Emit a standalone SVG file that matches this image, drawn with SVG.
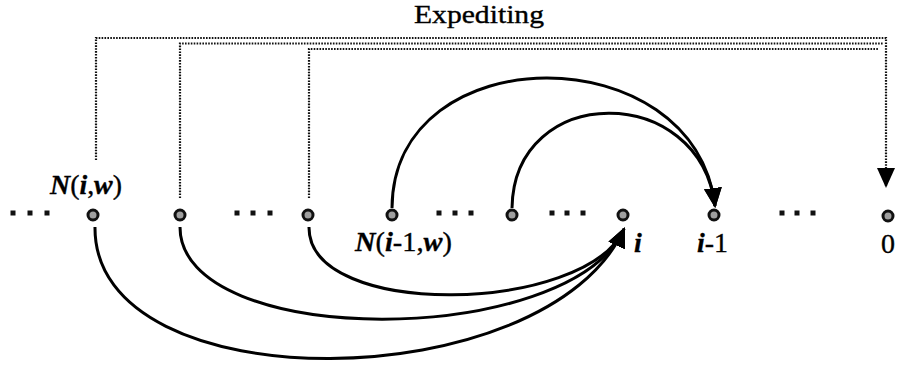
<svg xmlns="http://www.w3.org/2000/svg" width="897" height="365" viewBox="0 0 897 365">
<style>
.node{fill:#a0a0a0;stroke:#111;stroke-width:3}
.dot{fill:#111}
.arc{fill:none;stroke:#000;stroke-width:3}
.dotted{fill:none;stroke:#111;stroke-width:2.2;stroke-dasharray:1.6 1.3}
.lbl{font-family:"Liberation Serif","Times New Roman",serif;font-size:28px;fill:#000;stroke:#000;stroke-width:0.35}
.ttl{font-size:25px}
.bi{font-weight:bold;font-style:italic}
</style>
<defs>
<marker id="ah" markerUnits="userSpaceOnUse" markerWidth="20" markerHeight="18" viewBox="0 0 20 18" refX="18" refY="9" orient="auto">
<path d="M0,0 L20,9 L0,18 Z" fill="#000"/>
</marker>
</defs>
<rect width="897" height="365" fill="#fff"/>
<g id="ellipses">
<rect class="dot" x="10.5" y="210.5" width="5" height="5"/><rect class="dot" x="27.5" y="210.5" width="5" height="5"/><rect class="dot" x="44.5" y="210.5" width="5" height="5"/>
<rect class="dot" x="234.5" y="210.5" width="5" height="5"/><rect class="dot" x="250.5" y="210.5" width="5" height="5"/><rect class="dot" x="267.5" y="210.5" width="5" height="5"/>
<rect class="dot" x="436.5" y="210.5" width="5" height="5"/><rect class="dot" x="452.5" y="210.5" width="5" height="5"/><rect class="dot" x="468.5" y="210.5" width="5" height="5"/>
<rect class="dot" x="549.5" y="210.5" width="5" height="5"/><rect class="dot" x="564.5" y="210.5" width="5" height="5"/><rect class="dot" x="580.5" y="210.5" width="5" height="5"/>
<rect class="dot" x="779.5" y="210.5" width="5" height="5"/><rect class="dot" x="794.5" y="210.5" width="5" height="5"/><rect class="dot" x="810.5" y="210.5" width="5" height="5"/>
</g>
<g id="connectors">
<path class="dotted" d="M96,160 V38 H886 V186" marker-end="url(#ah)"/>
<path class="dotted" d="M180,198 V43.5 H883"/>
<path class="dotted" d="M309,198 V49 H879"/>
<path class="arc" d="M392,208 C393,35 695,35 715,206" marker-end="url(#ah)"/>
<path class="arc" d="M512,208 C514,82 700,82 715,206" marker-end="url(#ah)"/>
<path class="arc" d="M95,227 C93,405 547,399 624,229" marker-end="url(#ah)"/>
<path class="arc" d="M180,227 C180,350 570,349 624,229" marker-end="url(#ah)"/>
<path class="arc" d="M309,227 C308,320 586,314 624,229" marker-end="url(#ah)"/>
</g>
<g id="n_iw"><circle class="node" cx="93" cy="215" r="5"/><text class="lbl" x="50" y="194" textLength="72" lengthAdjust="spacingAndGlyphs"><tspan class="bi">N</tspan>(<tspan class="bi">i</tspan>,<tspan class="bi">w</tspan>)</text></g>
<g id="n2"><circle class="node" cx="180" cy="215" r="5"/></g>
<g id="n3"><circle class="node" cx="308" cy="215" r="5"/></g>
<g id="n_i1w"><circle class="node" cx="392" cy="215" r="5"/><text class="lbl" x="355" y="251" textLength="97" lengthAdjust="spacingAndGlyphs"><tspan class="bi">N</tspan>(<tspan class="bi">i</tspan>-1,<tspan class="bi">w</tspan>)</text></g>
<g id="n5"><circle class="node" cx="512" cy="215" r="5"/></g>
<g id="n_i"><circle class="node" cx="623" cy="215" r="5"/><text class="lbl bi" x="634" y="252">i</text></g>
<g id="n_im1"><circle class="node" cx="714" cy="215" r="5"/><text class="lbl" x="697" y="252" textLength="31" lengthAdjust="spacingAndGlyphs"><tspan class="bi">i</tspan>-1</text></g>
<g id="n_0"><circle class="node" cx="888" cy="216" r="5"/><text class="lbl" x="888" y="253" text-anchor="middle">0</text></g>
<g id="title"><text class="lbl ttl" x="414" y="23" textLength="130" lengthAdjust="spacingAndGlyphs">Expediting</text></g>
</svg>
